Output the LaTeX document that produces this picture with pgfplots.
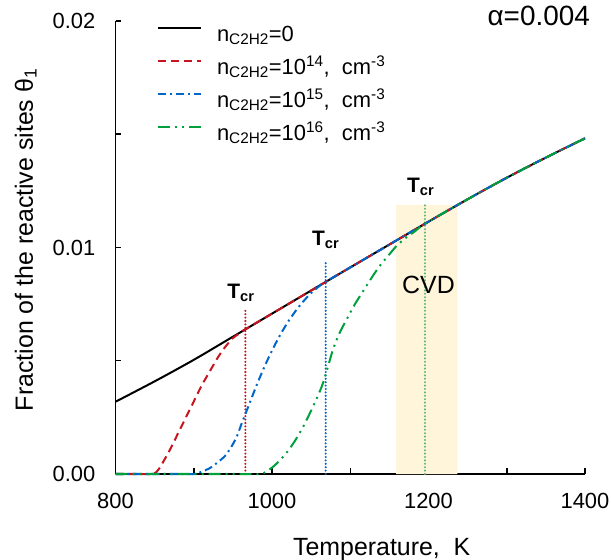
\documentclass[border=0pt]{standalone}
\usepackage{fontspec}
\setmainfont{Liberation Sans}
\usepackage{pgfplots}
\pgfplotsset{compat=1.18}
\definecolor{cred}{RGB}{200,20,30}
\definecolor{cblue}{RGB}{0,102,204}
\definecolor{cgreen}{RGB}{0,160,60}
\definecolor{cgreendot}{RGB}{90,185,110}
\definecolor{cvd}{RGB}{255,245,218}
\begin{document}
\begin{tikzpicture}
\useasboundingbox (0,0) rectangle (611bp,560bp);
\begin{axis}[
  at={(115.5bp,86bp)}, anchor=south west,
  scale only axis, width=469.5bp, height=453bp,
  xmin=800, xmax=1400, ymin=0, ymax=0.02,
  axis lines*=left,
  axis line style={line width=1.8bp},
  clip=false,
  scaled y ticks=false, scaled x ticks=false,
  xtick={800,900,...,1400}, xticklabels={800,,1000,,1200,,1400},
  ytick={0,0.005,0.01,0.015,0.02}, yticklabels={0.00,,0.01,,0.02},
  tick align=inside,
  major tick length=6bp,
  tick style={line width=1.5bp, black},
  ticklabel style={font=\fontsize{22}{26}\selectfont, inner sep=0pt},
  xticklabel style={anchor=north, yshift=-19bp},
  yticklabel style={anchor=east, xshift=-20bp},
  xlabel={Temperature,\ \ K},
  xlabel style={at={(axis description cs:0.567,-0.179)}, anchor=base, font=\fontsize{25}{30}\selectfont, inner sep=0pt},
  ylabel={Fraction of the reactive sites θ\textsubscript{1}},
  ylabel style={at={(axis description cs:-0.176,0.517)}, anchor=base, font=\fontsize{25}{30}\selectfont, inner sep=0pt},
  legend cell align=left,
  legend image code/.code={\draw[#1] (0bp,8bp) -- (43bp,8bp);},
  legend style={draw=none, fill=none, at={(axis description cs:0.088,0.9934)}, anchor=north west,
    font=\fontsize{22}{26}\selectfont, row sep=9bp, inner sep=0pt,
    nodes={inner sep=0pt, text height=17bp, text depth=7bp},
    /tikz/column 1/.style={column sep=15bp}},
  tcr/.style={line width=2.3bp, line cap=round, dash pattern=on 0bp off 3.4bp, forget plot},
]
% CVD region
\addplot[draw=none, fill=cvd, forget plot] coordinates {(1158.5,0) (1158.5,0.01188) (1237,0.01188) (1237,0)} \closedcycle;
% critical temperature lines
\addplot[cred, tcr] coordinates {(966,0) (966,0.00723)};
\addplot[cblue, tcr] coordinates {(1068.6,0) (1068.6,0.00935)};
\addplot[cgreendot, tcr] coordinates {(1195.5,0) (1195.5,0.01195)};
% n = 0
\addplot[black, line width=2bp, smooth] coordinates {
(800,0.00319)(850,0.00409)(900,0.00504)(950,0.00606)(1000,0.00708)(1050,0.00810)(1100,0.00912)(1150,0.01013)(1200,0.01114)(1250,0.01213)(1300,0.01308)(1350,0.01397)(1400,0.01482)};
\addlegendentry{n\textsubscript{C2H2}=0}
% 1e14
\addplot[cred, line width=2bp, dash pattern=on 8bp off 5bp, smooth] coordinates {
(800,0)(830,0)(848,0)(855,0.0002)(862,0.0006)(870,0.0011)(880,0.0018)(890,0.0025)(900,0.0032)(910,0.0039)(920,0.0045)(930,0.0051)(940,0.0056)(950,0.0060)(958,0.0062)(966,0.00639)(1000,0.00708)(1050,0.00810)(1100,0.00912)(1150,0.01013)(1200,0.01114)(1250,0.01213)(1300,0.01308)(1350,0.01397)(1400,0.01482)};
\addlegendentry{n\textsubscript{C2H2}=10\textsuperscript{14},\ \ cm\textsuperscript{-3}}
% 1e15
\addplot[cblue, line width=2bp, dash pattern=on 8bp off 4bp on 2bp off 4bp, smooth] coordinates {
(800,0)(880,0)(900,0)(910,0.0001)(920,0.00025)(930,0.0005)(940,0.0008)(948,0.0012)(955,0.00165)(962,0.0023)(970,0.0030)(980,0.00389)(990,0.00471)(1000,0.00545)(1010,0.00611)(1020,0.00669)(1030,0.00719)(1040,0.00762)(1050,0.00799)(1060,0.00828)(1068,0.00848)(1100,0.00912)(1150,0.01013)(1200,0.01114)(1250,0.01213)(1300,0.01308)(1350,0.01397)(1400,0.01482)};
\addlegendentry{n\textsubscript{C2H2}=10\textsuperscript{15},\ \ cm\textsuperscript{-3}}
% 1e16
\addplot[cgreen, line width=2bp, dash pattern=on 12bp off 5bp on 2bp off 5bp on 2bp off 5bp, smooth] coordinates {
(800,0)(960,0)(985,0)(992,0.0001)(1000,0.00028)(1010,0.0006)(1020,0.0010)(1030,0.0015)(1040,0.0021)(1050,0.0028)(1058,0.0034)(1065,0.0040)(1072,0.0048)(1078,0.0055)(1086,0.0062)(1095,0.0068)(1106,0.0075)(1117,0.0081)(1128,0.0087)(1138,0.0092)(1150,0.0097)(1160,0.0101)(1172,0.01045)(1184,0.01075)(1195,0.01104)(1250,0.01213)(1300,0.01308)(1350,0.01397)(1400,0.01482)};
\addlegendentry{n\textsubscript{C2H2}=10\textsuperscript{16},\ \ cm\textsuperscript{-3}}
% labels
\node[anchor=base, font=\fontsize{21}{25}\selectfont\bfseries] at (axis cs:960.4,0.00777) {T\textsubscript{cr}};
\node[anchor=base, font=\fontsize{21}{25}\selectfont\bfseries] at (axis cs:1068.6,0.01011) {T\textsubscript{cr}};
\node[anchor=base, font=\fontsize{21}{25}\selectfont\bfseries] at (axis cs:1190,0.01245) {T\textsubscript{cr}};
\node[anchor=base, font=\fontsize{25}{30}\selectfont] at (axis cs:1200,0.00799) {CVD};
\node[anchor=base east, font=\fontsize{28}{32}\selectfont, inner sep=0pt] at (axis description cs:1.0107,0.989) {α=0.004};
\end{axis}
\end{tikzpicture}
\end{document}
